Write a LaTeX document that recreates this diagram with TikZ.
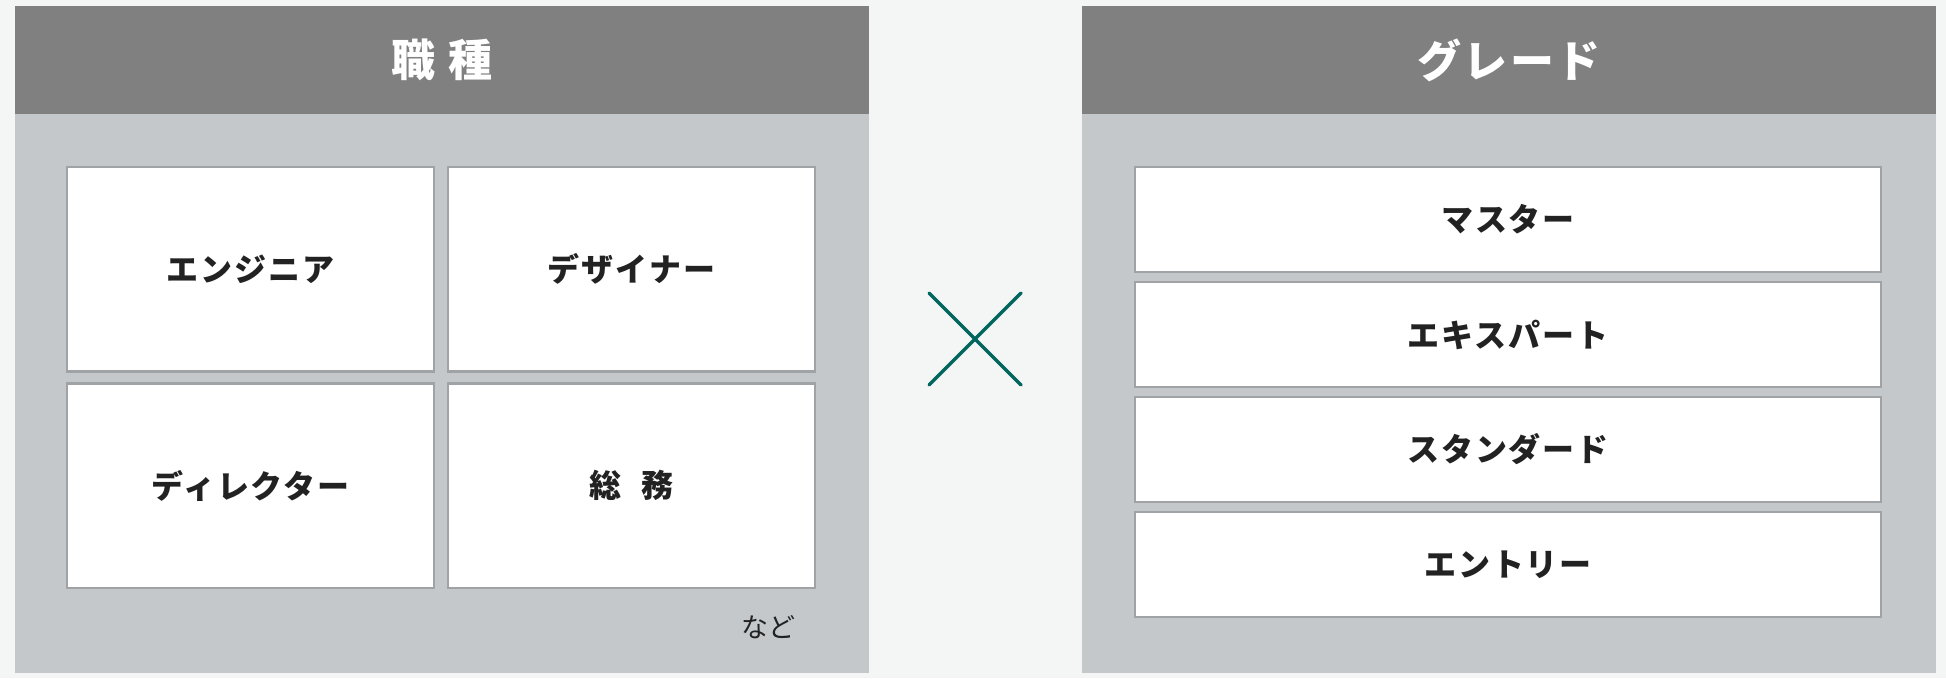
\documentclass[tikz,border=0pt]{standalone}
\usepackage{fontspec}
\newfontfamily\jpfont[LetterSpace=6]{Noto Sans CJK JP}
\newfontfamily\jpplain{Noto Sans CJK JP}
\usetikzlibrary{positioning}
\definecolor{pagebg}{HTML}{F4F5F5}
\definecolor{headgray}{HTML}{808080}
\definecolor{panelgray}{HTML}{C4C8CB}
\definecolor{edgegray}{HTML}{9FA3A6}
\definecolor{inkdark}{HTML}{222222}
\definecolor{crossteal}{HTML}{00665E}
\begin{document}
\begin{tikzpicture}[x=1pt, y=-1pt,
        panel/.style = {fill=panelgray, inner sep=0, outer sep=0, minimum width=854, minimum height=667, anchor=north west},
        header/.style = {fill=headgray, text=white, inner sep=0, outer sep=0, minimum width=854, minimum height=108, anchor=north,
                         font=\jpfont\bfseries\fontsize{44}{44}\selectfont},
        jobbox/.style = {draw=edgegray, line width=2.5pt, fill=white, text=inkdark, inner sep=0, outer sep=0,
                         minimum width=367, minimum height=204.5, font=\jpfont\bfseries\fontsize{32}{32}\selectfont},
        gradebox/.style = {jobbox, minimum width=746, minimum height=105},
        crossline/.style = {draw=crossteal, line width=3.5pt, line cap=round}]
        \fill[pagebg] (0,0) rectangle (1946,678);
        % left: job types
        \node (jobpanel) [panel] at (15,6) {};
        \node (jobhead) [header] at (jobpanel.north) {職\hspace{14pt}種};
        \node (engineer) [jobbox, anchor=north west] at (67,167) {エンジニア};
        \node (designer) [jobbox, right=14pt of engineer] {デザイナー};
        \node (director) [jobbox, below=12pt of engineer] {ディレクター};
        \node (general) [jobbox, below=12pt of designer] {総\hspace{20pt}務};
        \node (etc) [text=inkdark, font=\jpplain\fontsize{27}{27}\selectfont] at (768,627) {など};
        % times sign
        \coordinate (xnw) at (929,293);
        \coordinate (xne) at (1021,293);
        \coordinate (xsw) at (929,385);
        \coordinate (xse) at (1021,385);
        \draw[crossline] (xnw) -- (xse);
        \draw[crossline] (xne) -- (xsw);
        % right: grades
        \node (gradepanel) [panel] at (1082,6) {};
        \node (gradehead) [header] at (gradepanel.north) {グレード};
        \node (master) [gradebox, anchor=north west] at (1135,167) {マスター};
        \node (expert) [gradebox, below=10pt of master] {エキスパート};
        \node (standard) [gradebox, below=10pt of expert] {スタンダード};
        \node (entry) [gradebox, below=10pt of standard] {エントリー};
    \end{tikzpicture}
\end{document}
